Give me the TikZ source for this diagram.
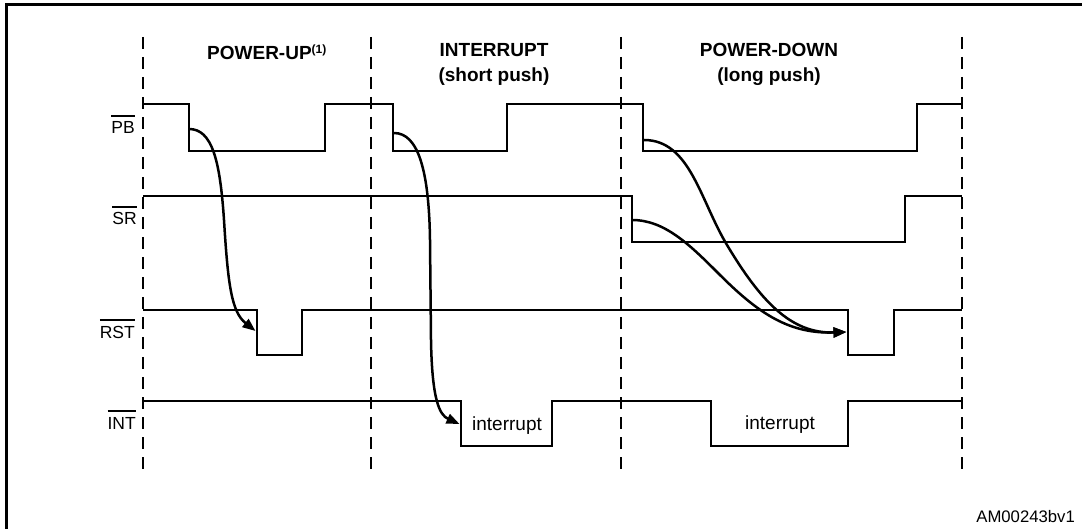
\documentclass[tikz,border=0pt]{standalone}
\usepackage{fontspec}
\setmainfont{Liberation Sans}
\usetikzlibrary{arrows.meta}
\newcommand\ovbar[1]{\leavevmode\vbox{\hrule height 2.2pt\kern 5pt\hbox{#1}}}
\begin{document}
\begin{tikzpicture}[x=1pt,y=-1pt,
  frame/.style={line width=3pt},
  sig/.style={line width=2.8pt},
  dsh/.style={line width=2.4pt, dash pattern=on 12pt off 8pt},
  arr/.style={line width=2.5pt, -{Triangle[length=13pt,width=10pt]}},
  hdr/.style={font=\fontsize{19}{22}\selectfont\bfseries, inner sep=0pt, anchor=base},
  lbl/.style={font=\fontsize{17.5}{20}\selectfont, inner sep=0pt, anchor=base east},
  irq/.style={font=\fontsize{19}{22}\selectfont, inner sep=0pt, anchor=base},
  ref/.style={font=\fontsize{16.7}{20}\selectfont, inner sep=0pt, anchor=base east}]
\useasboundingbox (0,0) rectangle (1082,529);
% frame
\draw[frame] (6,529) -- (6,5) -- (1082,5);
% phase separators
\foreach \x in {143,371,621,962} \draw[dsh] (\x,37) -- (\x,470);
% headers
\node[hdr, anchor=base west] (hpu) at (207,60) {POWER-UP\raisebox{6.5pt}{\fontsize{12}{14}\selectfont (1)}};
\node[hdr] (hint1) at (494,57) {INTERRUPT};
\node[hdr] (hint2) at (494,82) {(short push)};
\node[hdr] (hpd1) at (769,57) {POWER-DOWN};
\node[hdr] (hpd2) at (769,82) {(long push)};
% signal labels
\node[lbl] (lpb) at (135,134) {\ovbar{PB}};
\node[lbl] (lsr) at (137,225) {\ovbar{SR}};
\node[lbl] (lrst) at (135,338.5) {\ovbar{RST}};
\node[lbl] (lint) at (136,429.5) {\ovbar{INT}};
% waveforms
\draw[sig] (143,104) -- (189,104) -- (189,151) -- (325,151) -- (325,104) -- (393,104) -- (393,151) -- (507,151) -- (507,104) -- (643,104) -- (643,151) -- (917,151) -- (917,104) -- (962,104);
\draw[sig] (143,196) -- (632,196) -- (632,242) -- (905,242) -- (905,196) -- (962,196);
\draw[sig] (143,310) -- (257,310) -- (257,355) -- (302,355) -- (302,310) -- (848,310) -- (848,355) -- (894,355) -- (894,310) -- (962,310);
\draw[sig] (143,401) -- (461,401) -- (461,446) -- (552,446) -- (552,401) -- (711,401) -- (711,446) -- (848,446) -- (848,401) -- (962,401);
% interrupt labels
\node[irq] (i1) at (507,430) {interrupt};
\node[irq] (i2) at (780,429) {interrupt};
% id
\node[ref] (id) at (1075,522) {AM00243bv1};
% connector end points
\coordinate (a1s) at (189,129);
\coordinate (a1e) at (255.5,331);
\coordinate (a2s) at (394,133);
\coordinate (a2e) at (459.5,424);
\coordinate (a3s) at (644,140);
\coordinate (a4s) at (632,220);
\coordinate (a3e) at (846.5,332);
% causal arrows
\draw[arr] (a1s) .. controls +(23,0) and +(-4,-60) .. (224,220) .. controls +(4,65) and +(-24,-19) .. (a1e);
\draw[arr] (a2s) .. controls +(24,0) and +(-1,-70) .. (430,240) -- (431,340) .. controls +(1,60) and +(-20,-9) .. (a2e);
\draw[arr] (a3s) .. controls +(46,0) and +(-27,-45) .. (727,245) .. controls +(33,55) and +(-56,2) .. (a3e);
\draw[arr] (a4s) .. controls +(33,0) and +(-30,-30) .. (720,275) .. controls +(40,40) and +(-56,2) .. (a3e);
\end{tikzpicture}
\end{document}
